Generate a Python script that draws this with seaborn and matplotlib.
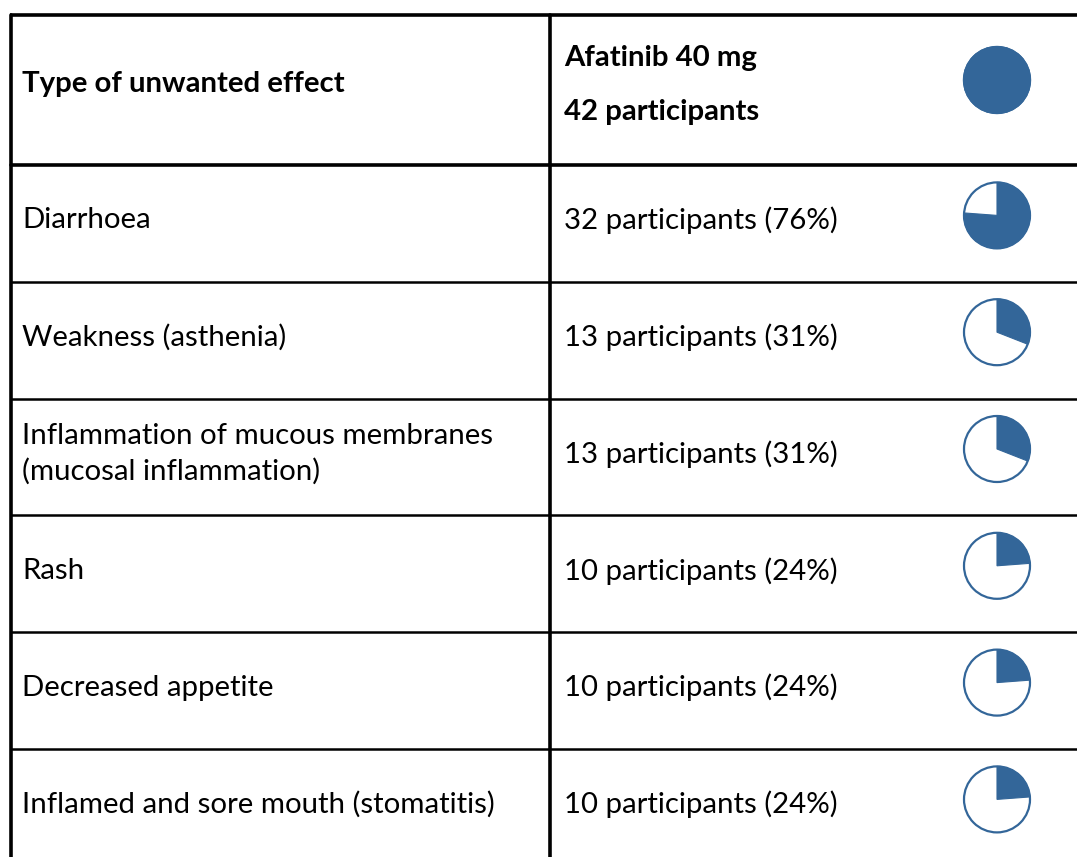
import matplotlib
matplotlib.use("Agg")
import matplotlib.pyplot as plt
from matplotlib.patches import Wedge, Circle
import seaborn as sns

# -----------------------------
# DATA
# -----------------------------
header_left = "Type of unwanted effect"
header_drug = "Afatinib 40 mg"
total_participants = 42

effects = [
    "Diarrhoea",
    "Weakness (asthenia)",
    "Inflammation of mucous membranes\n(mucosal inflammation)",
    "Rash",
    "Decreased appetite",
    "Inflamed and sore mouth (stomatitis)",
]
counts = [32, 13, 13, 10, 10, 10]
percents = [76, 31, 31, 24, 24, 24]

# -----------------------------
# STYLE
# -----------------------------
sns.set_theme(style="white")
plt.rcParams["font.family"] = ["Lato", "DejaVu Sans"]
plt.rcParams["text.color"] = "black"

PIE_COLOR = "#336699"
FS = 21.2

fig = plt.figure(figsize=(10.77, 8.57), dpi=100)
ax = fig.add_axes([0, 0, 1, 1])
ax.set_xlim(0, 1077)
ax.set_ylim(857, 0)
ax.axis("off")

# table geometry (pixels)
x_left, x_mid, x_right = 11, 550, 1077
top, header_bottom, row_h = 15, 165, 116.8
pie_x, pie_r = 997, 33

# -----------------------------
# GRID
# -----------------------------
ax.plot([x_left - 1, x_right], [top, top], color="black", lw=2.6, solid_capstyle="butt")
ax.plot([x_left, x_right], [header_bottom, header_bottom], color="black", lw=2.6)
for i in range(1, len(effects)):
    y = header_bottom + i * row_h
    ax.plot([x_left, x_right], [y, y], color="black", lw=1.8)
ax.plot([x_left, x_left], [top, 857], color="black", lw=2.6)
ax.plot([x_mid, x_mid], [top, 857], color="black", lw=2.6)


def draw_pie(cy, frac):
    ax.add_patch(Circle((pie_x, cy), pie_r, facecolor="white",
                        edgecolor=PIE_COLOR, lw=1.6))
    if frac >= 1:
        ax.add_patch(Circle((pie_x, cy), pie_r, facecolor=PIE_COLOR,
                            edgecolor=PIE_COLOR, lw=1.6))
    else:
        # clockwise from 12 o'clock (y axis inverted -> angles flip)
        ax.add_patch(Wedge((pie_x, cy), pie_r, -90, -90 + 360 * frac,
                           facecolor=PIE_COLOR, edgecolor=PIE_COLOR, lw=0.8))


# -----------------------------
# HEADER
# -----------------------------
ax.text(22, 84, header_left, fontsize=FS, fontweight="bold", va="center", ha="left")
ax.text(564, 58, header_drug, fontsize=FS, fontweight="bold", va="center", ha="left")
ax.text(564, 112, f"{total_participants} participants", fontsize=FS,
        fontweight="bold", va="center", ha="left")
draw_pie(80, 1.0)

# -----------------------------
# ROWS
# -----------------------------
for i, (eff, n, p) in enumerate(zip(effects, counts, percents)):
    cy = header_bottom + (i + 0.5) * row_h
    ax.text(22, cy - 3, eff, fontsize=FS, va="center", ha="left", linespacing=1.42)
    ax.text(564, cy - 3, f"{n} participants ({p}%)", fontsize=FS, va="center", ha="left")
    draw_pie(cy - 8, n / total_participants)

fig.savefig("out.png", dpi=100)
